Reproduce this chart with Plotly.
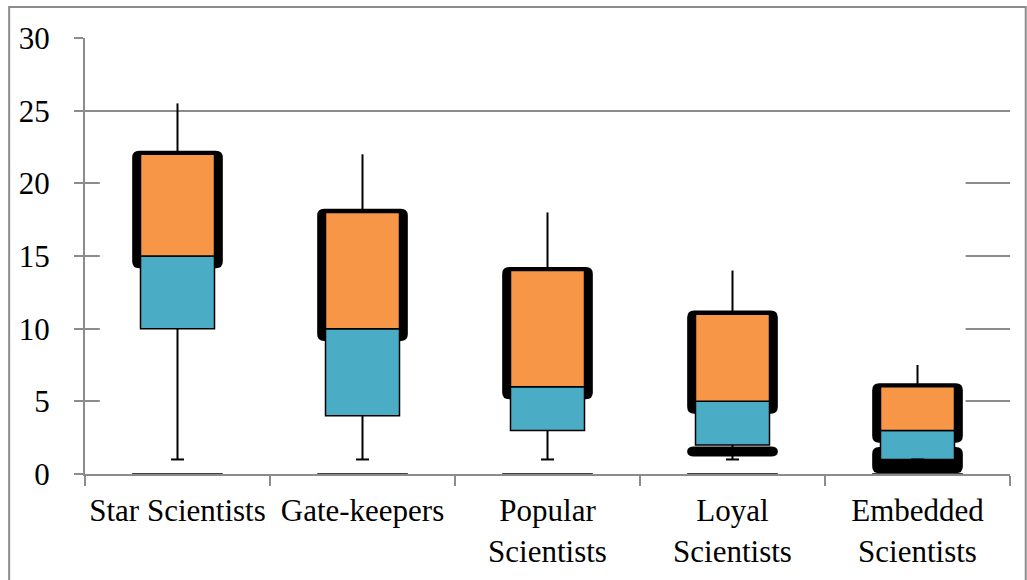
import plotly.graph_objects as go

# Five-number summaries per researcher profile
categories = ["Star Scientists", "Gate-keepers", "Popular<br>Scientists",
              "Loyal<br>Scientists", "Embedded<br>Scientists"]
minimum = [1, 1, 1, 1, 1]
q1 = [10, 4, 3, 2, 1]
median = [15, 10, 6, 5, 3]
q3 = [22, 18, 14, 11, 6]
maximum = [25.5, 22, 18, 14, 7.5]

# Extra dark bands below the boxes (None where absent)
low_band_bottom = [None, None, None, 1.2, 0.05]
low_band_top = [None, None, None, 1.9, 1.86]

y_ticks = [0, 5, 10, 15, 20, 25, 30]

ORANGE = "#F79646"
TEAL = "#4BACC6"
GRID = "#8c8c8c"
FONT = "Liberation Serif"

W, H = 1027, 580
MARGIN = dict(l=85, r=17, t=38, b=106)
X_RANGE = [-0.5, 4.5]
Y_RANGE = [0, 30]

xs = list(range(len(categories)))
BOX_W = 0.4
SHADE_W = 0.49
SHADE_TOP = 0.25
SHADE_BOTTOM = 0.85
RADIUS_PX = 7

# data units per pixel, used to keep the corner radius round on screen
px_x = (X_RANGE[1] - X_RANGE[0]) / (W - MARGIN["l"] - MARGIN["r"])
px_y = (Y_RANGE[1] - Y_RANGE[0]) / (H - MARGIN["t"] - MARGIN["b"])


def rounded_rect(x0, x1, y0, y1):
    rx = RADIUS_PX * px_x
    ry = min(RADIUS_PX * px_y, (y1 - y0) / 2)
    path = (f"M {x0 + rx},{y0} L {x1 - rx},{y0} Q {x1},{y0} {x1},{y0 + ry} "
            f"L {x1},{y1 - ry} Q {x1},{y1} {x1 - rx},{y1} "
            f"L {x0 + rx},{y1} Q {x0},{y1} {x0},{y1 - ry} "
            f"L {x0},{y0 + ry} Q {x0},{y0} {x0 + rx},{y0} Z")
    return dict(type="path", layer="between", xref="x", yref="y", path=path,
                fillcolor="black", line=dict(width=0))


fig = go.Figure()

# whiskers with a cap at the minimum
wx, wy = [], []
cap = 0.035
for i in xs:
    wx += [i, i, None, i, i, None, i - cap, i + cap, None]
    wy += [maximum[i], q3[i], None, q1[i], minimum[i], None, minimum[i], minimum[i], None]
fig.add_trace(go.Scatter(x=wx, y=wy, mode="lines",
                         line=dict(color="black", width=2),
                         hoverinfo="skip", showlegend=False))

# lower box: Q1 to median
fig.add_trace(go.Bar(x=xs, y=[m - a for m, a in zip(median, q1)], base=q1,
                     width=BOX_W, marker=dict(color=TEAL, line=dict(color="black", width=1.5)),
                     hoverinfo="skip", showlegend=False))
# upper box: median to Q3
fig.add_trace(go.Bar(x=xs, y=[b - m for b, m in zip(q3, median)], base=median,
                     width=BOX_W, marker=dict(color=ORANGE, line=dict(color="black", width=1.5)),
                     hoverinfo="skip", showlegend=False))

shapes = [
    # blank panel over the inner gridlines
    dict(type="rect", layer="between", xref="x", yref="y",
         x0=-0.42, x1=4.26, y0=0.1, y1=22.5,
         fillcolor="white", line=dict(width=0)),
    # outer chart frame
    dict(type="rect", xref="paper", yref="paper",
         x0=-0.082, x1=1.017, y0=-0.3, y1=1.071,
         fillcolor="rgba(0,0,0,0)", line=dict(color=GRID, width=2)),
]
# dark outline behind each upper box
for i in xs:
    shapes.append(rounded_rect(i - SHADE_W / 2, i + SHADE_W / 2,
                               median[i] - SHADE_BOTTOM, q3[i] + SHADE_TOP))
# dark bands beneath some boxes
for i in xs:
    if low_band_bottom[i] is not None:
        shapes.append(rounded_rect(i - SHADE_W / 2, i + SHADE_W / 2,
                                   low_band_bottom[i], low_band_top[i]))
# dark base strokes on the axis
for i in xs:
    shapes.append(dict(type="line", xref="x", yref="y",
                       x0=i - SHADE_W / 2, x1=i + SHADE_W / 2, y0=0, y1=0,
                       line=dict(color="#404040", width=2)))

fig.update_layout(
    width=W, height=H,
    margin=MARGIN,
    paper_bgcolor="white", plot_bgcolor="white",
    barmode="overlay",
    font=dict(family=FONT, size=31, color="black"),
    shapes=shapes,
    xaxis=dict(
        range=X_RANGE, tickmode="array", tickvals=xs, ticktext=categories,
        ticks="", showgrid=False, zeroline=False,
        showline=True, linecolor=GRID, linewidth=2,
        minor=dict(tickmode="linear", tick0=-0.5, dtick=1, ticks="outside",
                   ticklen=10, tickcolor=GRID, tickwidth=2, showgrid=False),
        ticklabelstandoff=8,
    ),
    yaxis=dict(
        range=Y_RANGE, tickmode="array", tickvals=y_ticks,
        ticks="outside", ticklen=9, tickcolor=GRID, tickwidth=2,
        showgrid=True, gridcolor=GRID, gridwidth=2, zeroline=False,
        showline=True, linecolor=GRID, linewidth=2,
        ticklabelstandoff=18,
    ),
)

fig.write_html("out.html")
